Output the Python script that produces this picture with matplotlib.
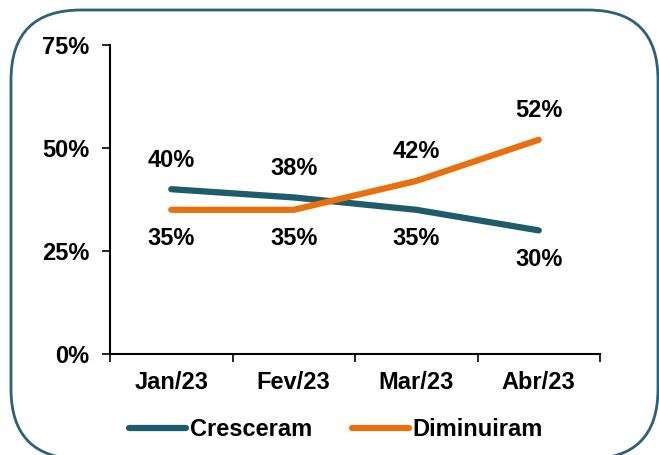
import matplotlib.pyplot as plt
import numpy as np
from matplotlib.patches import FancyBboxPatch

plt.rcParams['font.family'] = ['Liberation Sans', 'DejaVu Sans']
plt.rcParams['font.weight'] = 'bold'

months = ["Jan/23", "Fev/23", "Mar/23", "Abr/23"]
cresceram = [40, 38, 35, 30]
diminuiram = [35, 35, 42, 52]
# label above (True) or below (False) the point
cres_above = [True, True, False, False]
dim_above = [False, False, True, True]

teal = "#1E5B6B"
orange = "#E8700F"
fs = 17

fig = plt.figure(figsize=(6.59, 4.55), dpi=100)
ax = fig.add_axes([110/659, 1-354/455, 490/659, 309/455])

x = np.arange(len(months))
ax.plot(x, cresceram, color=teal, lw=4.5, solid_capstyle='round', label="Cresceram")
ax.plot(x, diminuiram, color=orange, lw=4.5, solid_capstyle='round', label="Diminuiram")

for xi, v, up in zip(x, cresceram, cres_above):
    ax.annotate("{}%".format(v), (xi, v), xytext=(0, 21 if up else -21), textcoords='offset points',
                ha='center', va='center', fontsize=fs, fontweight='bold')
for xi, v, up in zip(x, diminuiram, dim_above):
    ax.annotate("{}%".format(v), (xi, v), xytext=(0, 21 if up else -21), textcoords='offset points',
                ha='center', va='center', fontsize=fs, fontweight='bold')

ax.set_xlim(-0.5, 3.5)
ax.set_ylim(0, 75)
ax.set_yticks([0, 25, 50, 75])
ax.set_yticklabels(["0%", "25%", "50%", "75%"], fontsize=fs, fontweight='bold')
ax.set_xticks(x)
ax.set_xticklabels(months, fontsize=fs, fontweight='bold')
ax.set_xticks(np.arange(-0.5, 4, 1), minor=True)
ax.tick_params(axis='x', which='major', length=0, pad=12)
ax.tick_params(axis='x', which='minor', length=6, width=1.2, direction='out')
ax.tick_params(axis='y', length=6, width=1.2, pad=9)
for s in ['top', 'right']:
    ax.spines[s].set_visible(False)
for s in ['left', 'bottom']:
    ax.spines[s].set_linewidth(1.5)

leg = fig.legend(loc='center', bbox_to_anchor=(336/659, 1-430/455), ncol=2, frameon=False,
                 prop={'size': fs, 'weight': 'bold'}, handlelength=2.4, handletextpad=0.15,
                 columnspacing=1.7)

box = FancyBboxPatch((11, -4), 647, 449, boxstyle="round,pad=0,rounding_size=70",
                     transform=None, fill=False, edgecolor="#2B6275", lw=2)
fig.add_artist(box)

fig.savefig("out.png", dpi=100)
